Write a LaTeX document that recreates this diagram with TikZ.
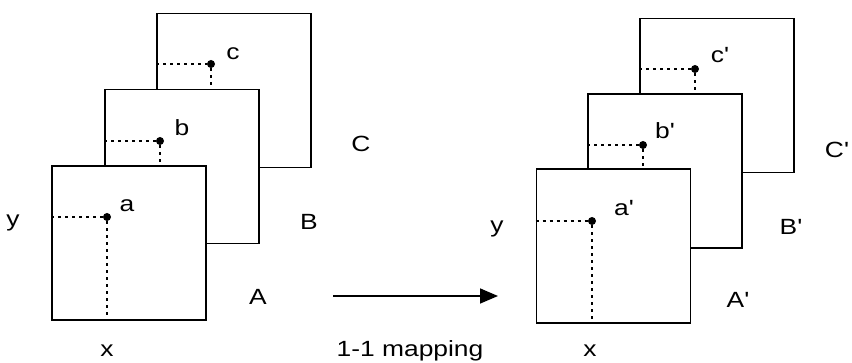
\documentclass[tikz,border=0pt]{standalone}
\usepackage{fontspec}
\setmainfont{Liberation Sans}
\usepackage{graphicx}
\usetikzlibrary{arrows.meta}
\newcommand{\wide}[1]{\scalebox{1.2}[1]{#1}}
\newcommand{\pr}{\textquotesingle}

\begin{document}
\begin{tikzpicture}[x=1pt, y=-1pt,
	plane/.style={draw, fill=white, line width=1.9pt, minimum size=154pt, inner sep=0pt},
	pt/.style={circle, fill, inner sep=0pt, minimum size=8pt},
	guide/.style={line width=1.7pt, dash pattern=on 3pt off 4pt},
	lbl/.style={anchor=base, inner sep=0pt, font=\fontsize{22}{26}\selectfont}]
	\useasboundingbox (0, 0) rectangle (852, 363);
	\node [plane] (C) at (234, 90.5) {};
	\node [plane] (B) at (182, 166.5) {};
	\node [plane] (A) at (129, 243) {};
	\node [plane] (C2) at (717, 95.5) {};
	\node [plane] (B2) at (665, 171) {};
	\node [plane] (A2) at (613.5, 246) {};
	\node [pt] (a) at (107, 217) {};
	\node [pt] (b) at (160, 141) {};
	\node [pt] (c) at (211, 64) {};
	\node [pt] (a2) at (592, 221) {};
	\node [pt] (b2) at (643, 145) {};
	\node [pt] (c2) at (695, 69) {};
	\node [lbl] (La) at (127, 212) {\wide{a}};
	\node [lbl] (Lb) at (182, 136) {\wide{b}};
	\node [lbl] (Lc) at (233, 60) {\wide{c}};
	\node [lbl] (Ly) at (13, 227) {\wide{y}};
	\node [lbl] (Lx) at (107, 357) {\wide{x}};
	\node [lbl] (LA) at (258, 305) {\wide{A}};
	\node [lbl] (LB) at (309, 230) {\wide{B}};
	\node [lbl] (LC) at (361, 152) {\wide{C}};
	\node [lbl] (La2) at (624, 216) {\wide{a\pr}};
	\node [lbl] (Lb2) at (665, 139) {\wide{b\pr}};
	\node [lbl] (Lc2) at (720, 63) {\wide{c\pr}};
	\node [lbl] (Ly2) at (497, 233) {\wide{y}};
	\node [lbl] (Lx2) at (590, 357) {\wide{x}};
	\node [lbl] (LA2) at (738, 308) {\wide{A\pr}};
	\node [lbl] (LB2) at (791, 235) {\wide{B\pr}};
	\node [lbl] (LC2) at (837, 158) {\wide{C\pr}};
	\node [lbl] (map) at (410, 357) {\wide{1-1 mapping}};
	\coordinate (m1) at (333, 296);
	\coordinate (m2) at (498, 296);
	\draw [guide] (A.west |- a) -- (a);
	\draw [guide] (a) -- (a |- A.south);
	\draw [guide] (B.west |- b) -- (b);
	\draw [guide] (b) -- (b |- A.north);
	\draw [guide] (C.west |- c) -- (c);
	\draw [guide] (c) -- (c |- B.north);
	\draw [guide] (A2.west |- a2) -- (a2);
	\draw [guide] (a2) -- (a2 |- A2.south);
	\draw [guide] (B2.west |- b2) -- (b2);
	\draw [guide] (b2) -- (b2 |- A2.north);
	\draw [guide] (C2.west |- c2) -- (c2);
	\draw [guide] (c2) -- (c2 |- B2.north);
	\draw [-{Triangle[length=18pt, width=15pt]}, line width=1.6pt] (m1) -- (m2);
\end{tikzpicture}
\end{document}
